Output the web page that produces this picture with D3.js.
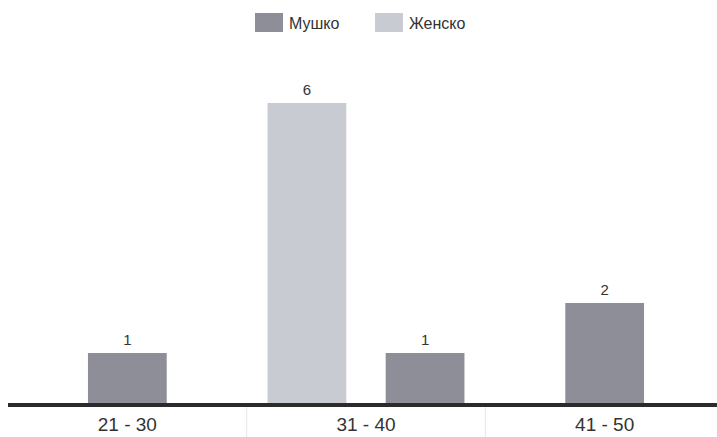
<!DOCTYPE html>
<html>
<head>
<meta charset="utf-8">
<script src="https://cdn.jsdelivr.net/npm/d3@7"></script>
<style>
  body { margin: 0; background: #fff; }
  svg { display: block; font-family: "Liberation Sans", Arial, sans-serif; }
</style>
</head>
<body>
<div id="chart"></div>
<script>
// data
const categories = ["21 - 30", "31 - 40", "41 - 50"];
const seriesNames = ["Женско", "Мушко"];   // drawing order inside a group
const legendOrder = ["Мушко", "Женско"];
const male = [1, 1, 2];
const female = [0, 6, 0];

const width = 717, height = 437;
const colors = { "Мушко": "#8d8e97", "Женско": "#c8cbd2" };

const svg = d3.select("#chart").append("svg")
    .attr("width", width)
    .attr("height", height);

const x = d3.scaleBand().domain(categories).range([8, 724]);
const y = d3.scaleLinear().domain([0, 6]).range([403, 103]);

const rows = categories.map((c, i) => ({
    cat: c,
    values: { "Мушко": male[i], "Женско": female[i] }
}));

// separators below axis
svg.selectAll("line.sep")
    .data(categories.slice(1))
    .enter().append("line")
    .attr("x1", d => x(d)).attr("x2", d => x(d))
    .attr("y1", 406).attr("y2", height)
    .attr("stroke", "#e6e6e6").attr("stroke-width", 1);

const bw = x.bandwidth() * 0.33;
const gap = x.bandwidth() * 0.165;

rows.forEach(r => {
    // zero bars are skipped, the rest are centred in the group
    const keys = seriesNames.filter(k => r.values[k] > 0);
    const n = keys.length;
    const w = n * bw + (n - 1) * gap;
    const c = x(r.cat) + x.bandwidth() / 2;
    const inner = d3.scaleBand().domain(keys)
        .range([c - w / 2, c + w / 2])
        .paddingInner(n > 1 ? gap / (bw + gap) : 0).paddingOuter(0);

    const g = svg.append("g");
    g.selectAll("rect")
        .data(keys)
        .enter().append("rect")
        .attr("x", k => inner(k))
        .attr("y", k => y(r.values[k]))
        .attr("width", inner.bandwidth())
        .attr("height", k => y(0) - y(r.values[k]))
        .attr("fill", k => colors[k]);

    g.selectAll("text")
        .data(keys)
        .enter().append("text")
        .attr("x", k => inner(k) + inner.bandwidth() / 2)
        .attr("y", k => y(r.values[k]) - 8)
        .attr("text-anchor", "middle")
        .attr("font-size", 15)
        .attr("fill", "#333")
        .text(k => r.values[k]);
});

// axis baseline + category labels
const xAxis = svg.append("g").attr("transform", "translate(0,404)")
    .call(d3.axisBottom(x).tickSize(0).tickPadding(14));
xAxis.select(".domain").remove();
xAxis.selectAll("text")
    .attr("font-size", 19)
    .attr("font-family", "Liberation Sans, Arial, sans-serif")
    .attr("fill", "#333");

svg.append("line")
    .attr("x1", 8).attr("x2", width)
    .attr("y1", 405).attr("y2", 405)
    .attr("stroke", "#2b2b2b").attr("stroke-width", 4);

// legend
const legend = svg.append("g");
const lx = [255, 375];
legendOrder.forEach((k, i) => {
    legend.append("rect")
        .attr("x", lx[i]).attr("y", 13)
        .attr("width", 28).attr("height", 19)
        .attr("fill", colors[k]);
    legend.append("text")
        .attr("x", lx[i] + 34).attr("y", 29)
        .attr("font-size", 16)
        .attr("fill", "#333")
        .text(k);
});
</script>
</body>
</html>
